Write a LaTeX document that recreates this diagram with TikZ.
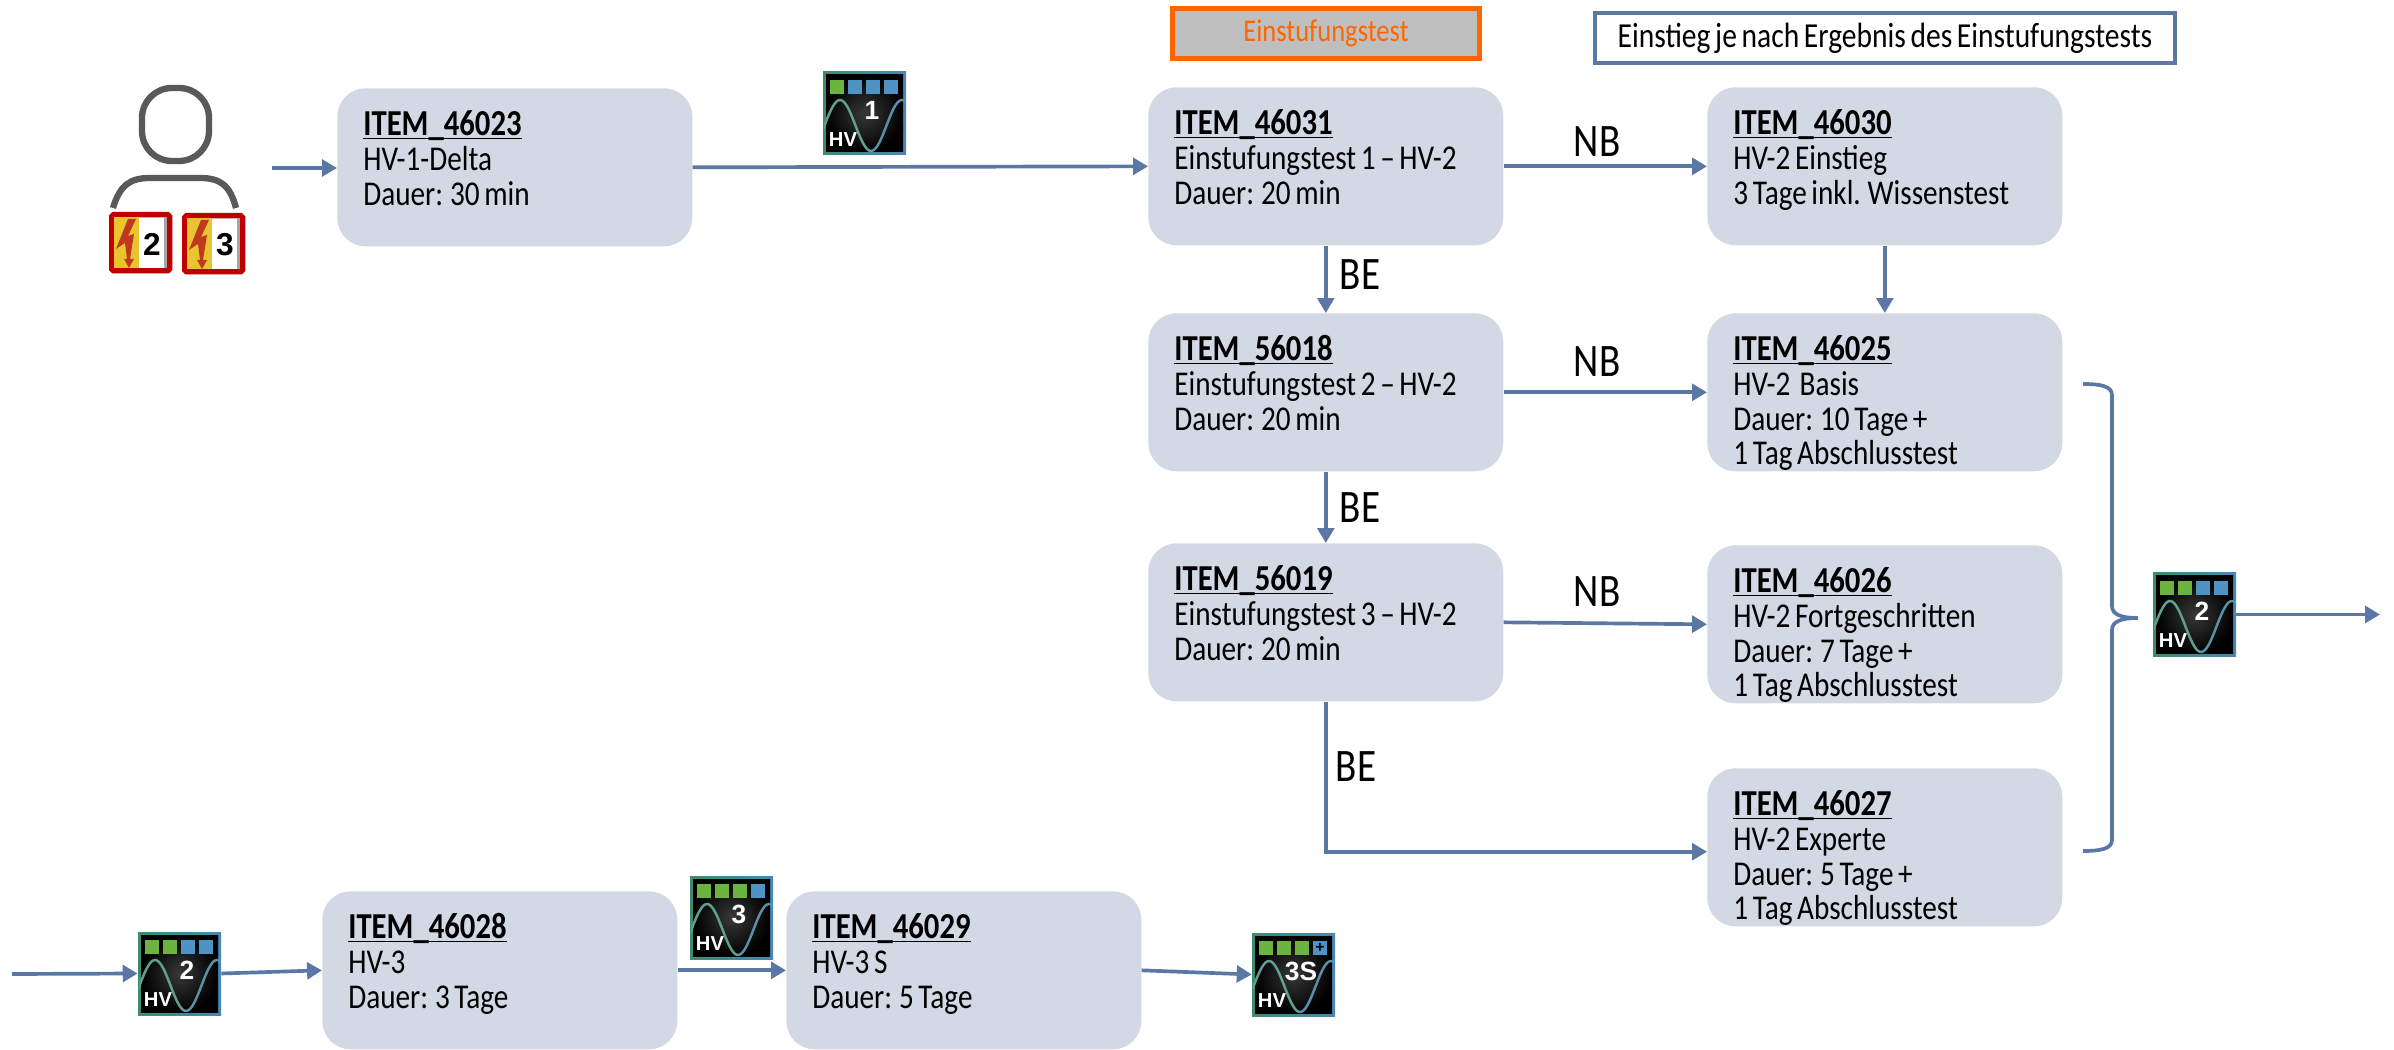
\documentclass[tikz,border=0pt]{standalone}
\usepackage{fontspec}
\setmainfont[FakeStretch=0.84,WordSpace=0.7]{Carlito}
\newfontfamily\iconfont{Liberation Sans}
\usetikzlibrary{arrows.meta,calc}
\definecolor{flowc}{HTML}{5B77A3}
\definecolor{boxc}{HTML}{D2D8E4}
\definecolor{greenq}{HTML}{6CB33F}
\definecolor{blueq}{HTML}{4F93C4}
\definecolor{badgered}{HTML}{C00000}
\definecolor{badgeyel}{HTML}{E8C52E}
\definecolor{boltc}{HTML}{C0391F}
\definecolor{persong}{HTML}{595959}
\definecolor{icongreen}{HTML}{3F8A6F}
\definecolor{iconblue}{HTML}{4A86B8}
\definecolor{sinel}{HTML}{5FA08F}
\definecolor{siner}{HTML}{5A90A8}
\definecolor{headorange}{HTML}{FF6600}
\tikzset{
  x=0.02cm,y=-0.02cm,
  itembox/.style={rectangle,rounded corners=16pt,fill=boxc,anchor=north west,inner xsep=14.8pt,inner ysep=0pt,font=\fontsize{19.8}{19.7}\selectfont},
  flow/.style={draw=flowc,line width=2.1pt,-{Triangle[length=8.5pt,width=9.5pt]}},
  lab/.style={font=\fontsize{26.5}{28}\selectfont,inner sep=0pt},
  iconbox/.style={rectangle,minimum size=47.2pt,inner sep=0pt},
  badgebox/.style={rectangle,draw=badgered,line width=3pt,rounded corners=1pt,fill=white,inner sep=0pt,minimum width=33pt,minimum height=32pt},
  personline/.style={draw=persong,line width=3.6pt},
}
\newcommand{\itemnode}[5]{% name,x,y,title,lines
  \node[itembox] (#1) at (#2,#3) {\parbox[c][89.9pt][t]{172.4pt}{\setlength{\baselineskip}{19.7pt}\setlength{\parskip}{0pt}\rule{0pt}{27pt}{\fontsize{20.8}{19.7}\selectfont\textbf{\underline{\smash{#4}}}}\\#5}};}
\newcommand{\hvicon}[6]{% name,x,y,ngreen,label,plus
  \begin{scope}[shift={(#2,#3)}]
    \shade[left color=icongreen,right color=iconblue] (0,0) rectangle (83,83);
    \shade[inner color=black!78,outer color=black] (3,3) rectangle (80,80);
    \foreach \i in {1,...,4}{
      \ifnum\i>#4\relax\def\qc{blueq}\else\def\qc{greenq}\fi
      \fill[\qc] ({7+(\i-1)*18},8) rectangle ++(14,14);
    }
    \node[inner sep=0pt,text=black] at (68,15) {\iconfont\bfseries\fontsize{9}{9}\selectfont #6};
    \begin{scope}
      \clip (1,1) rectangle (82,82);
      \draw[line width=1.4pt,color=sinel,domain=0:48,samples=30,smooth] plot ({\x},{53.5-25.5*cos((\x-17)*180/31)});
      \draw[line width=1.4pt,color=siner,domain=48:83,samples=30,smooth] plot ({\x},{53.5-25.5*cos((\x-17)*180/31)});
    \end{scope}
    \node[inner sep=0pt,text=white] at (20,68) {\iconfont\bfseries\fontsize{11.5}{12}\selectfont HV};
    \node[inner sep=0pt,text=white] at (49,38) {\iconfont\bfseries\fontsize{15}{16}\selectfont #5};
    \node[iconbox] (#1) at (41.5,41.5) {};
  \end{scope}}
\newcommand{\badge}[4]{% name,x,y,digit
  \begin{scope}[shift={(#2,#3)}]
    \node[badgebox,anchor=north west] (#1) at (0,0) {};
    \fill[badgeyel] (5.3,5.3) rectangle (30,56);
    \fill[gray!70] (55,5.3) rectangle (58,56);
    \fill[boltc] (19,7) -- (27,7) -- (19,24) -- (25,22) -- (21,47) -- (25,47) -- (20,56) -- (15,47) -- (18,47) -- (16,31) -- (7,37) -- cycle;
    \node[inner sep=0pt] at (43,32) {\iconfont\bfseries\fontsize{18}{18}\selectfont #4};
  \end{scope}}
\begin{document}
\begin{tikzpicture}
\useasboundingbox (0,0) rectangle (2394,1050);
% person
\draw[personline,rounded corners=17pt] (142,88) rectangle (209,161);
\draw[personline] (113,208) .. controls (120,185) and (130,178) .. (150,178) -- (200,178) .. controls (220,178) and (230,185) .. (236,208);
\badge{bgtwo}{109}{212}{2}
\badge{bgthree}{182}{213}{3}
\coordinate (personout) at (272,168);
% header boxes
\node[rectangle,draw=headorange,line width=2.8pt,fill=black!25,minimum width=175pt,minimum height=28pt,inner sep=0pt,text=headorange,font=\fontsize{18}{19}\selectfont] (headtest) at (1326,33.5) {Einstufungstest};
\node[rectangle,draw=flowc,line width=2.2pt,fill=white,minimum width=330pt,minimum height=28.5pt,inner sep=0pt,font=\fontsize{20}{21}\selectfont] (headentry) at (1885,38) {Einstieg je nach Ergebnis des Einstufungstests};
% boxes
\itemnode{a}{337}{88}{ITEM\_46023}{HV-1-Delta\\Dauer: 30 min}
\itemnode{b}{1148}{87}{ITEM\_46031}{Einstufungstest 1 – HV-2\\Dauer: 20 min}
\itemnode{c}{1148}{313}{ITEM\_56018}{Einstufungstest 2 – HV-2\\Dauer: 20 min}
\itemnode{d}{1148}{543}{ITEM\_56019}{Einstufungstest 3 – HV-2\\Dauer: 20 min}
\itemnode{e}{1707}{87}{ITEM\_46030}{HV-2 Einstieg\\3 Tage inkl. Wissenstest}
\itemnode{f}{1707}{313}{ITEM\_46025}{HV-2~~Basis\\Dauer: 10 Tage +\\1 Tag Abschlusstest}
\itemnode{g}{1707}{545}{ITEM\_46026}{HV-2 Fortgeschritten\\Dauer: 7 Tage +\\1 Tag Abschlusstest}
\itemnode{h}{1707}{768}{ITEM\_46027}{HV-2 Experte\\Dauer: 5 Tage +\\1 Tag Abschlusstest}
\itemnode{i}{322}{891}{ITEM\_46028}{HV-3\\Dauer: 3 Tage}
\itemnode{j}{786}{891}{ITEM\_46029}{HV-3 S\\Dauer: 5 Tage}
% icons
\hvicon{icone}{823}{72}{1}{1}{}
\hvicon{ictwo}{2153}{573}{2}{2}{}
\hvicon{icbot}{138}{932}{2}{2}{}
\hvicon{icthree}{690}{876}{3}{3}{}
\hvicon{icthrees}{1252}{933}{3}{3S}{+}
% connectors
\coordinate (startin) at (12,974);
\coordinate (endout) at (2380,614);
\draw[flow] (personout) -- (a.west |- personout);
\draw[flow] (a.east) -- (b.west);
\draw[flow] (b.east) -- (e.west);
\draw[flow] (b.south) -- (c.north);
\draw[flow] (e.south) -- (f.north);
\draw[flow] (c.east) -- (f.west);
\draw[flow] (c.south) -- (d.north);
\draw[flow] (d.east) -- (g.west);
\draw[flow] (d.south) |- ([yshift=-2.5pt]h.west);
\draw[flow] (startin) -- (icbot.west);
\draw[flow] (icbot.east) -- (i.west);
\draw[flow] (i.east) -- (j.west);
\draw[flow] (j.east) -- (icthrees.west);
\draw[flow] (ictwo.east) -- (ictwo.east -| endout);
% brace
\coordinate (bracetop) at (2083,384);
\coordinate (bracebot) at (2083,851);
\coordinate (bracetip) at (2138,618);
\draw[draw=flowc,line width=2.1pt] (bracetop) .. controls (2100,384) and (2112,386) .. (2112,395) -- (2112,606) .. controls (2112,614) and (2120,618) .. (bracetip) .. controls (2120,618) and (2112,622) .. (2112,630) -- (2112,840) .. controls (2112,849) and (2100,851) .. (bracebot);
% labels
\node[lab] (nba) at (1597,142) {NB};
\node[lab] (nbb) at (1597,362) {NB};
\node[lab] (nbc) at (1597,592) {NB};
\node[lab] (bea) at (1360,275) {BE};
\node[lab] (beb) at (1360,508) {BE};
\node[lab] (bec) at (1356,767) {BE};
\end{tikzpicture}
\end{document}
